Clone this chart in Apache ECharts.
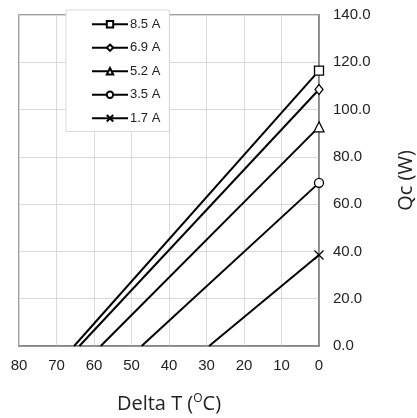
<!DOCTYPE html>
<html><head><meta charset="utf-8">
<script src="https://cdn.jsdelivr.net/npm/echarts@6/dist/echarts.min.js"></script>
<style>html,body{margin:0;padding:0;background:#fff}#c{width:417px;height:418px}</style>
</head><body><div id="c"></div>
<script>
var seriesNames = ['8.5 A', '6.9 A', '5.2 A', '3.5 A', '1.7 A'];
var zeroQcDeltaT = [65.3, 63.9, 58.2, 47.3, 29.3];
var maxQc = [116.5, 108.5, 92.7, 69.0, 38.5];
var xTicks = [0, 10, 20, 30, 40, 50, 60, 70, 80];
var yTicks = [0, 20, 40, 60, 80, 100, 120, 140];

var symbols = ['rect', 'diamond', 'triangle', 'circle', 'path://M0,0L10,10M10,0L0,10'];
var symSizes = [9, [8, 10], 10, 9, 9];
var LBL = "'Liberation Sans', Arial, sans-serif";

var chart = echarts.init(document.getElementById('c'), null, {renderer: 'canvas'});
var series = seriesNames.map(function (n, i) {
  return {
    name: n, type: 'line',
    symbol: symbols[i], symbolSize: symSizes[i],
    showAllSymbol: true,
    lineStyle: {color: '#000', width: 2},
    itemStyle: {color: i === 4 ? 'none' : '#fff', borderColor: '#000', borderWidth: 1.3},
    data: [{value: [zeroQcDeltaT[i], 0], symbol: 'none'}, {value: [0, maxQc[i]]}],
    z: 3
  };
});
chart.setOption({
  animation: false,
  backgroundColor: '#fff',
  grid: {left: 19, right: 98, top: 15, bottom: 72, show: true, borderColor: '#808080', borderWidth: 1.5,
    containLabel: false, outerBoundsMode: 'none'},
  legend: {
    orient: 'vertical', left: 66, top: 10,
    itemWidth: 36, itemHeight: 8, itemGap: 9,
    padding: [7, 9, 6, 25],
    backgroundColor: '#fff', borderColor: '#d9d9d9', borderWidth: 1,
    textStyle: {fontFamily: LBL, fontSize: 13, color: '#222', padding: [0, 0, 0, -3], lineHeight: 14.5},
    data: seriesNames
  },
  xAxis: {
    type: 'value', inverse: true, min: xTicks[0], max: xTicks[xTicks.length - 1], interval: 10,
    name: '{a|Delta T (}{s|O}{a|C)}', nameLocation: 'middle', nameGap: 47,
    nameTextStyle: {rich: {
      a: {fontFamily: 'Open Sans', fontSize: 20, color: '#222'},
      s: {fontFamily: 'Open Sans', fontSize: 12, color: '#222', verticalAlign: 'top', padding: [0, 0, 10, 0]}
    }},
    axisLine: {lineStyle: {color: '#808080', width: 1.5}},
    axisTick: {show: false},
    axisLabel: {fontFamily: LBL, fontSize: 15, color: '#222', margin: 12},
    splitLine: {show: true, lineStyle: {color: '#d9d9d9', width: 1}}
  },
  yAxis: {
    type: 'value', position: 'right', min: yTicks[0], max: yTicks[yTicks.length - 1], interval: 20,
    name: 'Qc (W)', nameLocation: 'middle', nameGap: 77, nameRotate: 90,
    nameTextStyle: {fontFamily: 'Open Sans', fontSize: 20, color: '#222'},
    axisLine: {show: true, lineStyle: {color: '#808080', width: 1.5}},
    axisTick: {show: false},
    axisLabel: {fontFamily: LBL, fontSize: 15, color: '#222', margin: 14,
      formatter: function (v) { return v.toFixed(1); }},
    splitLine: {show: true, lineStyle: {color: '#d9d9d9', width: 1}}
  },
  series: series
});
</script></body></html>
